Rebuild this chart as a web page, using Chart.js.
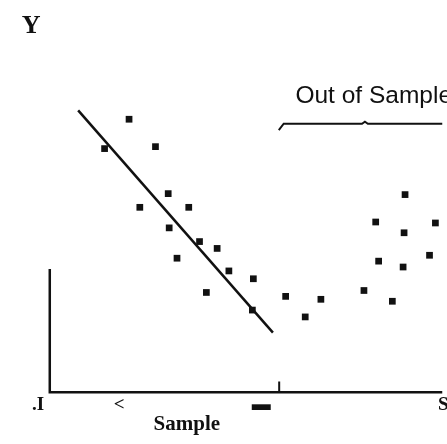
<!DOCTYPE html>
<html>
<head>
<meta charset="utf-8">
<script src="https://cdn.jsdelivr.net/npm/chart.js@4/dist/chart.umd.min.js"></script>
<style>
html,body{margin:0;padding:0;background:#fff;}
#c{display:block;}
</style>
</head>
<body>
<canvas id="c" width="447" height="444"></canvas>
<script>
// ---- data (x = time index, y = value) ----
const inSampleX = [20.25, 14, 27, 30.25, 23, 35.5, 30.5, 38.25, 42.75, 32.5, 45.75, 52, 40, 51.75];
const inSampleY = [69.75, 62.25, 62.75, 50.75, 47.25, 47.25, 42, 38.5, 36.75, 34.25, 31, 29, 25.5, 21];
const outSampleX = [60.25, 65.25, 69.25, 80.25, 87.5, 84, 90.25, 83.25, 90.5, 90.75, 98.5, 97];
const outSampleY = [24.5, 19.25, 23.75, 26, 23.25, 33.5, 32, 43.5, 40.75, 50.5, 43.25, 35];
const fitLineX = [7.25, 57];
const fitLineY = [72, 15.25];
const axisYX = [0, 0, 100.25];
const axisYY = [31.5, 0, 0];
const splitTickX = [58.6, 58.6];
const splitTickY = [2.75, 0];
const bracketX = [58.5, 59.75, 79.75, 80.5, 81.25, 100.25];
const bracketY = [67, 68.6, 68.6, 69.1, 68.6, 68.6];
const tickLabels = ['.I', '<', '\u25AC', 'S'];
const tickLabelX = [-3, 17.75, 54, 100.5];
const tickLabelY = -3.25;
const yTitle = 'Y';
const xTitle = 'Sample';
const outTitle = 'Out of Sample';

const pts = (xs, ys) => xs.map((x, i) => ({x: x, y: ys[i]}));

const textPlugin = {
  id: 'texts',
  afterDatasetsDraw(chart) {
    const ctx = chart.ctx, xs = chart.scales.x, ys = chart.scales.y;
    ctx.save();
    ctx.fillStyle = '#111';
    ctx.textBaseline = 'middle';
    // Y title
    ctx.font = 'bold 26px "Liberation Serif"';
    ctx.textAlign = 'center';
    ctx.fillText(yTitle, xs.getPixelForValue(-4.75), ys.getPixelForValue(93.5));
    // Out of Sample
    ctx.font = '24.5px "Liberation Sans"';
    ctx.textAlign = 'left';
    ctx.fillText(outTitle, xs.getPixelForValue(62.75), ys.getPixelForValue(75.5));
    // tick labels
    ctx.font = 'bold 19px "Liberation Serif"';
    ctx.textAlign = 'center';
    tickLabels.forEach((t, i) => {
      ctx.fillText(t, xs.getPixelForValue(tickLabelX[i]), ys.getPixelForValue(tickLabelY));
    });
    // Sample
    ctx.font = 'bold 21px "Liberation Serif"';
    ctx.fillText(xTitle, xs.getPixelForValue(35), ys.getPixelForValue(-8.25));
    ctx.restore();
  }
};

new Chart(document.getElementById('c'), {
  type: 'scatter',
  data: {
    datasets: [
      {data: pts(axisYX, axisYY), showLine: true, borderColor: '#111', borderWidth: 2.5, pointRadius: 0, clip: false},
      {data: pts(splitTickX, splitTickY), showLine: true, borderColor: '#111', borderWidth: 2, pointRadius: 0, clip: false},
      {data: pts(bracketX, bracketY), showLine: true, borderColor: '#111', borderWidth: 2, pointRadius: 0, clip: false},
      {data: pts(fitLineX, fitLineY), showLine: true, borderColor: '#111', borderWidth: 2.5, pointRadius: 0, clip: false},
      {data: pts(inSampleX, inSampleY), pointStyle: 'rect', pointRadius: 4.75, backgroundColor: '#111', borderWidth: 0, clip: false},
      {data: pts(outSampleX, outSampleY), pointStyle: 'rect', pointRadius: 4.75, backgroundColor: '#111', borderWidth: 0, clip: false}
    ]
  },
  options: {
    responsive: false,
    animation: false,
    layout: {padding: 0},
    plugins: {legend: {display: false}, tooltip: {enabled: false}},
    scales: {
      x: {type: 'linear', display: false, min: -11.5, max: 100.25},
      y: {type: 'linear', display: false, min: -12, max: 99}
    }
  },
  plugins: [textPlugin]
});
</script>
</body>
</html>
